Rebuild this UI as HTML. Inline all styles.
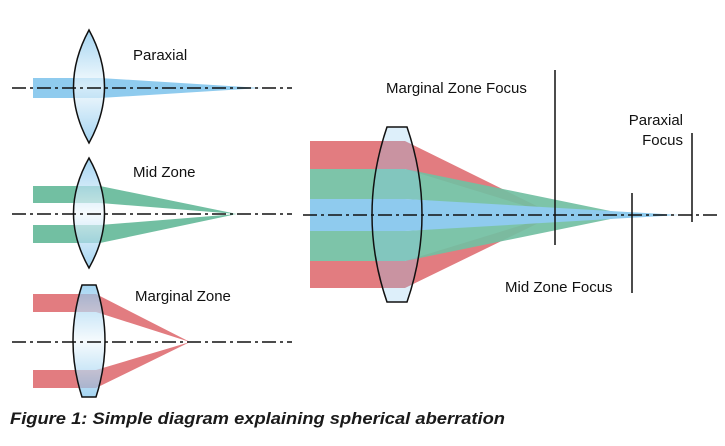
<!DOCTYPE html>
<html><head><style>html,body{margin:0;padding:0;background:#fff;}svg{display:block}</style></head>
<body>
<svg width="725" height="446" viewBox="0 0 725 446" xmlns="http://www.w3.org/2000/svg" font-family="Liberation Sans, sans-serif">
<defs>
<linearGradient id="lg" x1="0" y1="0" x2="0" y2="1">
<stop offset="0" stop-color="#7fc3ec"/><stop offset="0.5" stop-color="#f2f9fd"/><stop offset="1" stop-color="#7fc3ec"/>
</linearGradient>
</defs>
<!-- Paraxial -->
<polygon points="33,78 100,78 262,88 100,98 33,98" fill="#8fcbee"/>
<!-- Mid -->
<polygon points="33,186 100,186 237,214 100,203 33,203" fill="#72bfa2"/>
<polygon points="33,225 100,225 237,214 100,243 33,243" fill="#72bfa2"/>
<!-- Marginal -->
<polygon points="33,294 96,294 190,342 96,312 33,312" fill="#e27c80"/>
<polygon points="33,370 96,370 190,342 96,388 33,388" fill="#e27c80"/>
<!-- left lenses -->
<path d="M89,30 Q58,87 89,143 Q120,87 89,30Z" fill="url(#lg)" fill-opacity="0.7" stroke="#111" stroke-width="1.5"/>
<path d="M89,158 Q58,213 89,268 Q120,213 89,158Z" fill="url(#lg)" fill-opacity="0.7" stroke="#111" stroke-width="1.5"/>
<path d="M82,285 L96,285 Q114,341 96,397 L82,397 Q64,341 82,285Z" fill="url(#lg)" fill-opacity="0.7" stroke="#111" stroke-width="1.5"/>
<!-- axes -->
<g stroke="#111" stroke-width="1.5" stroke-dasharray="14,4,3,4">
<line x1="12" y1="88" x2="292" y2="88"/>
<line x1="12" y1="214" x2="292" y2="214"/>
<line x1="12" y1="342" x2="292" y2="342"/>
</g>
<!-- right beams -->
<polygon points="310,141 405,141 555,215 405,169 310,169" fill="#e27c80"/>
<polygon points="310,288 405,288 555,215 405,261 310,261" fill="#e27c80"/>
<polygon points="310,169 405,169 630,215 405,199 310,199" fill="#72bfa2" fill-opacity="0.92"/>
<polygon points="310,261 405,261 630,215 405,231 310,231" fill="#72bfa2" fill-opacity="0.92"/>
<polygon points="310,199 405,199 680,215 405,231 310,231" fill="#8fcbee"/>
<path d="M387,127 L407,127 Q437,215 407,302 L387,302 Q357,215 387,127Z" fill="#8fcbee" fill-opacity="0.3" stroke="#111" stroke-width="1.5"/>
<line x1="303" y1="215" x2="718" y2="215" stroke="#111" stroke-width="1.5" stroke-dasharray="14,4,3,4"/>
<!-- focus lines -->
<g stroke="#111" stroke-width="1.5">
<line x1="555" y1="70" x2="555" y2="245"/>
<line x1="632" y1="193" x2="632" y2="293"/>
<line x1="692" y1="133" x2="692" y2="222"/>
</g>
<g font-size="15" fill="#111">
<text x="133" y="60">Paraxial</text>
<text x="133" y="177">Mid Zone</text>
<text x="135" y="301">Marginal Zone</text>
<text x="386" y="93">Marginal Zone Focus</text>
<text x="683" y="125" text-anchor="end">Paraxial</text>
<text x="683" y="145" text-anchor="end">Focus</text>
<text x="505" y="292">Mid Zone Focus</text>
</g>
<text x="10" y="424" font-size="17" font-weight="bold" font-style="italic" fill="#1a1a1a" textLength="495" lengthAdjust="spacingAndGlyphs">Figure 1: Simple diagram explaining spherical aberration</text>
</svg>
</body></html>
